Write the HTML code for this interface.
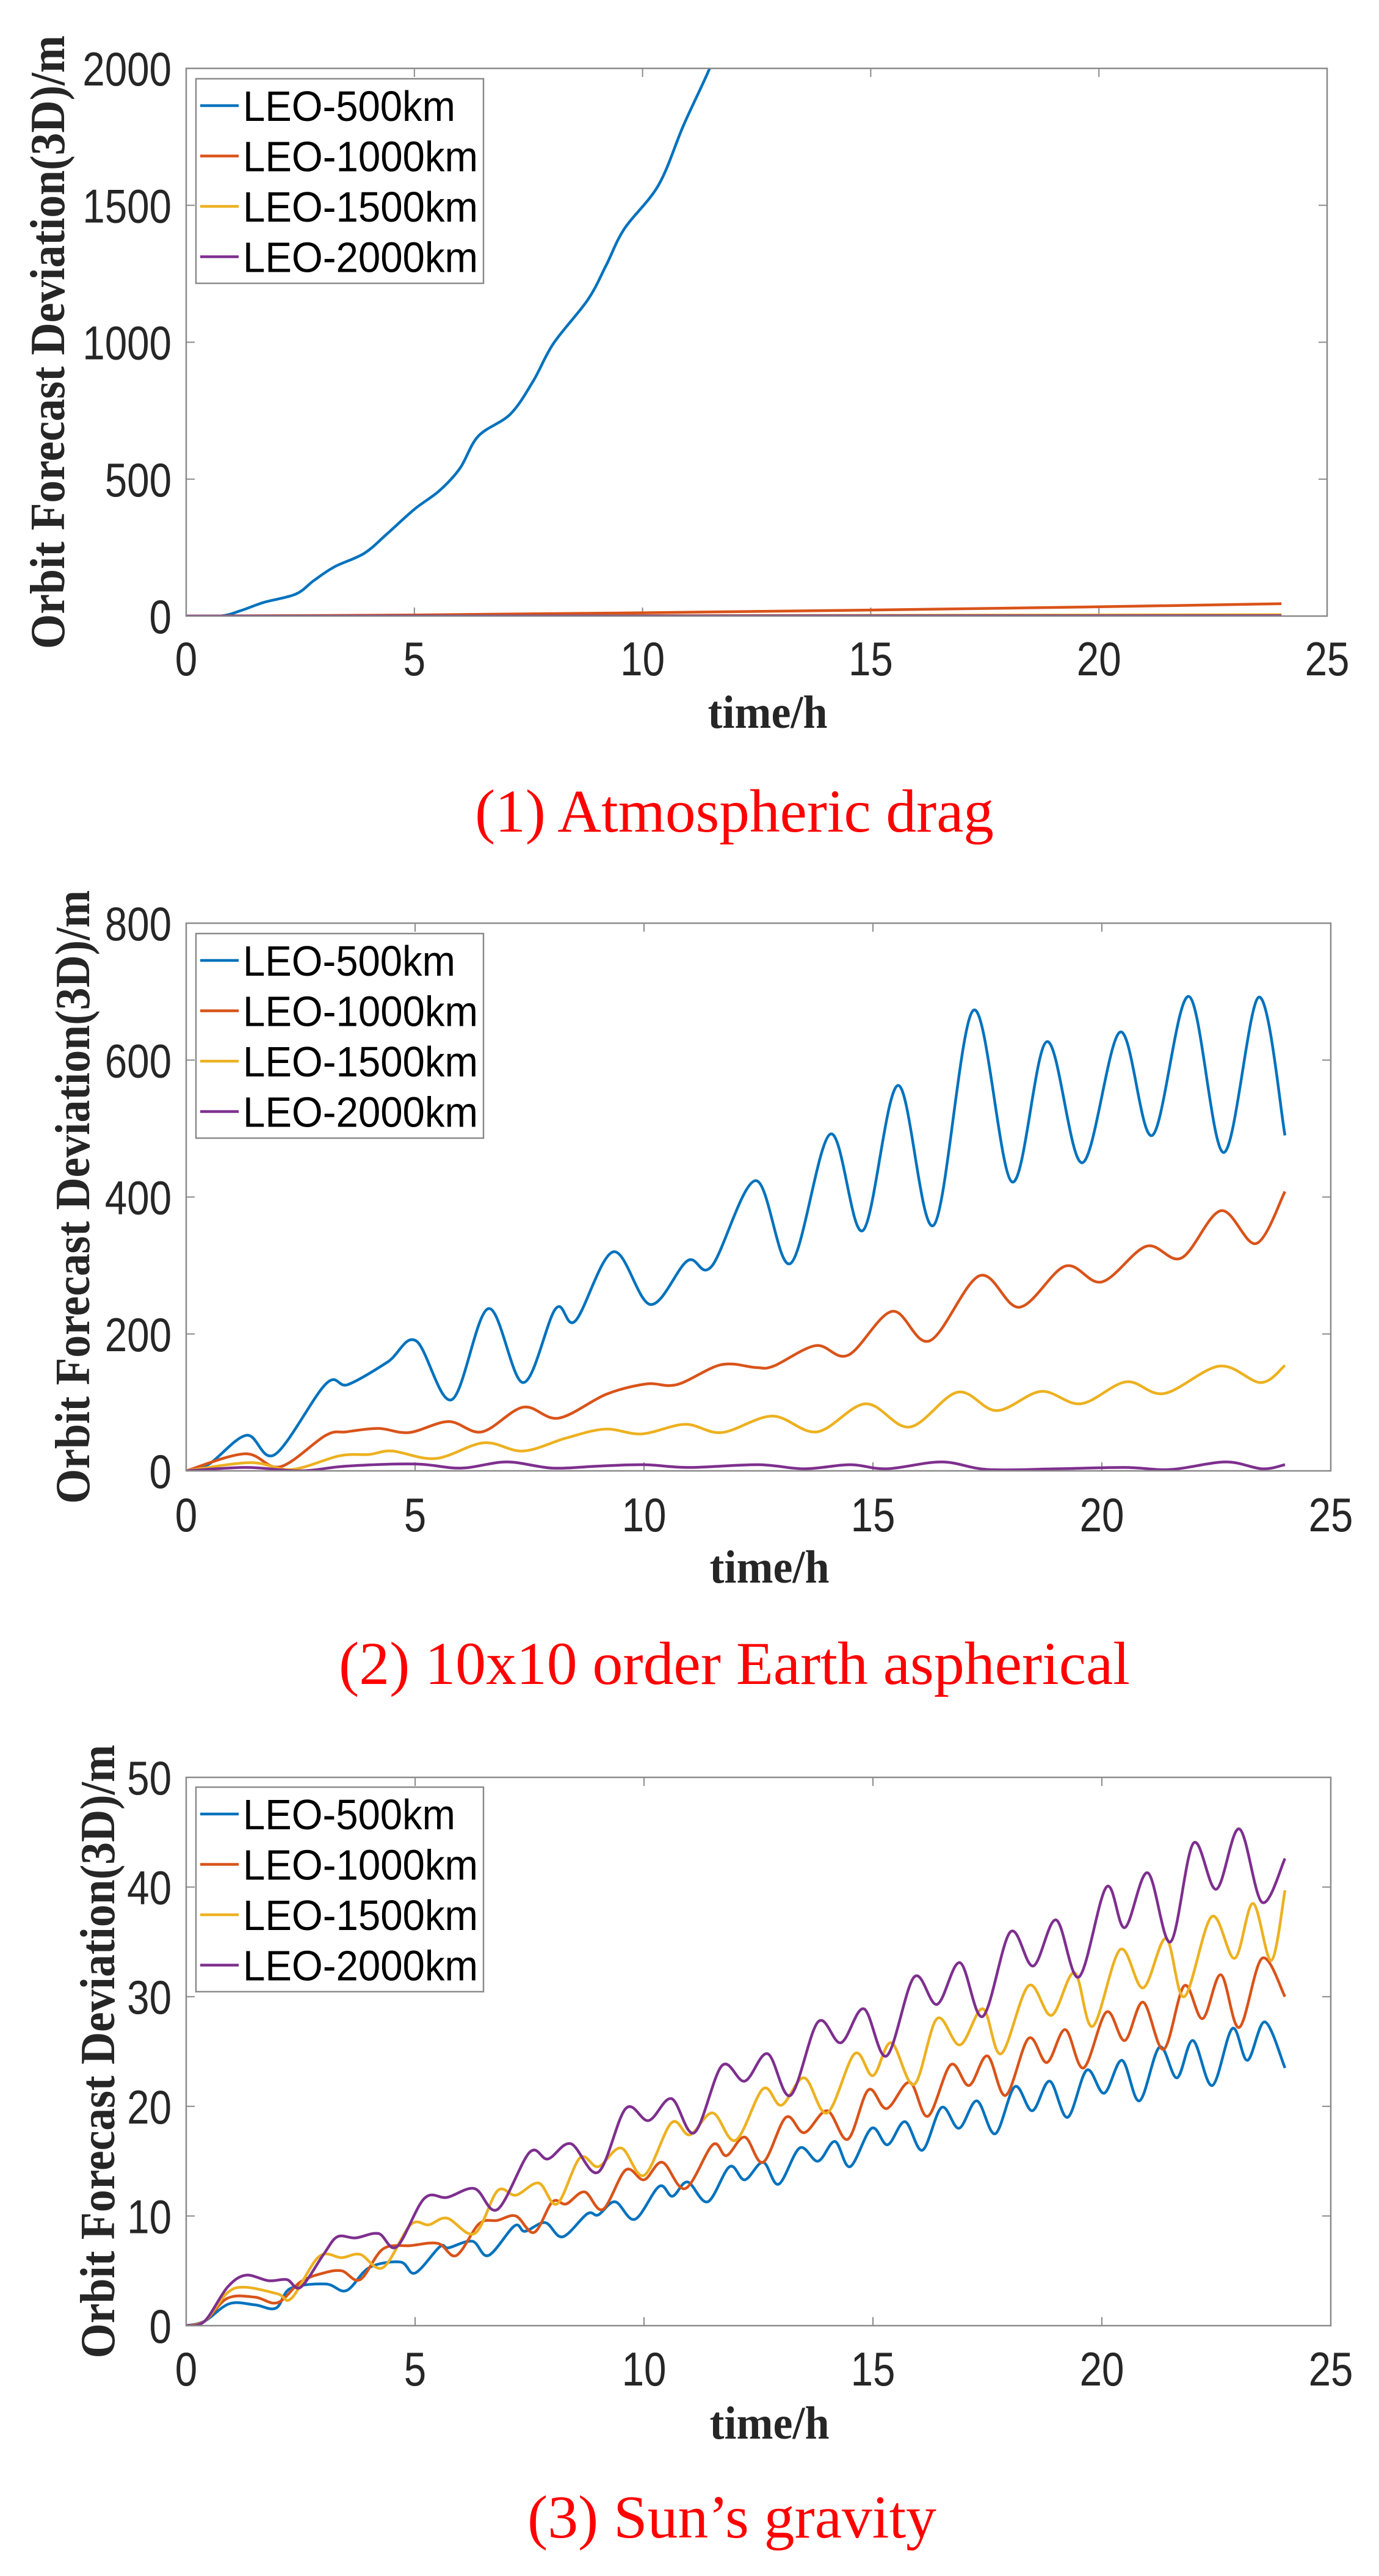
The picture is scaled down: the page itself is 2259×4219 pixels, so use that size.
<!DOCTYPE html>
<html><head><meta charset="utf-8"><style>
html,body{margin:0;padding:0;background:#fff;}
svg{display:block;}
</style></head><body>
<svg id="fig" width="2259" height="4219" viewBox="0 0 2259 4219" xmlns="http://www.w3.org/2000/svg"></svg>
<script>
// ---------- DATA ----------
const seriesNames = ["LEO-500km","LEO-1000km","LEO-1500km","LEO-2000km"];
const xTicks = [0,5,10,15,20,25];
const yTicks1 = [0,500,1000,1500,2000];
const yTicks2 = [0,200,400,600,800];
const yTicks3 = [0,10,20,30,40,50];
const captions = ["(1) Atmospheric drag","(2) 10x10 order Earth aspherical","(3) Sun’s gravity"];

// chart 1: atmospheric drag  [t, value]
const c1s500 = [[0,0],[0.75,0],[1.2,20],[1.7,50],[2.4,80],[2.8,130],[3.25,180],[3.9,229],[4.4,300],[5,390],[5.55,458],[6,540],[6.4,657],[7.1,737],[7.6,857],[8.05,996],[8.8,1155],[9.2,1280],[9.6,1414],[10.35,1574],[10.9,1793],[11.47,2000],[11.8,2150]];
const c1s1000 = [[0,0],[5,4],[10,12],[15,22],[20,34],[24,45]];
const c1s1500 = [[0,0],[6,1],[12,2],[18,3.5],[24,5]];
const c1s2000 = [[0,0],[8,0.4],[16,0.8],[24,1.2]];

// chart 2: 10x10 Earth aspherical
const c2s500 = [[0,0],[0.5,10],[1.32,52],[1.94,24],[3.05,127],[3.53,126],[4.4,159],[5.02,190],[5.8,104],[6.6,237],[7.36,129],[8.07,237],[8.5,219],[9.33,320],[10.14,243],[10.95,307],[11.48,299],[12.44,424],[13.2,303],[14.07,492],[14.78,351],[15.55,563],[16.33,359],[17.2,673],[18.04,422],[18.8,627],[19.57,450],[20.4,641],[21.1,490],[21.9,693],[22.66,465],[23.43,692],[24,490]];
const c2s1000 = [[0,0],[1.28,25],[2.05,6],[3.05,52],[3.5,57],[4.2,62],[4.87,56],[5.73,72],[6.46,57],[7.36,93],[8.13,77],[9.18,112],[10.05,127],[10.72,126],[11.68,155],[12.44,151],[12.83,153],[13.75,183],[14.46,169],[15.42,233],[16.24,190],[17.33,285],[18.2,239],[19.2,299],[20.0,276],[20.97,328],[21.74,311],[22.6,380],[23.37,332],[24,408]];
const c2s1500 = [[0,0],[1.4,12],[2.3,2],[3.35,22],[4,24],[4.5,29],[5.45,18],[6.5,41],[7.36,29],[8.3,48],[9.15,61],[9.95,54],[10.9,68],[11.7,56],[12.8,80],[13.78,57],[14.84,98],[15.8,64],[16.85,115],[17.7,88],[18.67,116],[19.54,98],[20.53,130],[21.36,113],[22.57,153],[23.47,129],[24,154]];
const c2s2000 = [[0,0],[1.3,5],[2.5,0],[3.5,7],[5,10],[6,4],[7,13],[8,4],[9,7],[10,9],[11,5],[12.5,9],[13.5,3],[14.5,9],[15.3,3],[16.5,13],[17.5,2],[19,3],[20.5,5],[21.5,2],[22.7,13],[23.5,3],[24,9]];

// chart 3: Sun's gravity
const c3s500 = [[0,0],[0.4,0.4],[0.94,2.0],[1.5,1.9],[1.96,1.6],[2.28,3.4],[3.05,3.8],[3.5,3.2],[4.0,5.3],[4.68,5.8],[5.0,4.8],[5.54,7.2],[5.73,7.1],[6.25,7.7],[6.6,6.4],[7.17,9.1],[7.4,8.6],[7.84,9.4],[8.22,8.1],[8.76,10.2],[9.0,10.1],[9.37,11.3],[9.8,9.7],[10.33,12.7],[10.62,11.8],[10.95,13.1],[11.39,11.3],[11.87,14.5],[12.2,13.3],[12.6,14.9],[12.94,12.9],[13.4,16.2],[13.8,15.0],[14.17,16.8],[14.5,14.5],[14.97,18.0],[15.32,16.5],[15.7,18.6],[16.08,16.0],[16.5,19.9],[16.88,18.0],[17.27,20.5],[17.67,17.5],[18.1,21.8],[18.48,19.6],[18.86,22.3],[19.25,19.0],[19.67,23.3],[20.05,21.2],[20.44,24.2],[20.82,20.5],[21.26,25.4],[21.64,22.6],[21.99,26.0],[22.41,21.9],[22.85,27.1],[23.18,24.2],[23.56,27.7],[24,23.5]];
const c3s1000 = [[0,0],[0.4,0.4],[0.9,2.5],[1.5,2.6],[2.0,2.1],[2.5,4.0],[3.0,4.8],[3.4,5.0],[3.8,4.2],[4.3,7.0],[4.9,7.3],[5.5,7.5],[5.9,6.4],[6.4,9.3],[6.8,9.6],[7.2,10.0],[7.6,8.5],[8.0,11.3],[8.3,11.1],[8.7,12.2],[9.1,10.6],[9.6,14.2],[10.0,13.3],[10.4,14.9],[10.9,12.5],[11.5,16.5],[11.8,15.5],[12.2,17.2],[12.6,14.9],[13.1,19.0],[13.5,17.6],[14.0,19.6],[14.45,17.0],[14.9,21.5],[15.3,19.8],[15.8,22.2],[16.2,19.1],[16.7,23.8],[17.1,21.9],[17.5,24.6],[17.9,21.0],[18.4,26.2],[18.8,24.0],[19.2,27.0],[19.6,23.5],[20.1,28.6],[20.5,26.0],[20.9,29.5],[21.35,25.2],[21.8,31.0],[22.2,28.0],[22.6,32.0],[23.0,27.2],[23.5,33.5],[24,30.0]];
const c3s1500 = [[0,0],[0.4,0.4],[0.9,3.0],[1.3,3.5],[2.0,2.9],[2.3,2.5],[2.9,6.3],[3.4,6.2],[3.8,6.5],[4.3,5.3],[4.9,9.2],[5.3,9.2],[5.7,9.8],[6.3,8.4],[6.8,12.3],[7.2,11.9],[7.7,13.0],[8.1,11.1],[8.6,15.3],[9.0,14.5],[9.5,16.2],[10.0,13.7],[10.6,18.5],[11.0,17.4],[11.5,19.4],[12.0,16.9],[12.6,21.6],[13.0,20.1],[13.5,22.6],[14.0,19.4],[14.6,24.8],[15.0,22.8],[15.4,25.8],[15.9,22.0],[16.4,28.0],[16.9,25.6],[17.4,28.9],[17.8,24.8],[18.4,31.0],[18.9,28.3],[19.4,32.2],[19.8,27.3],[20.4,34.3],[20.9,30.8],[21.4,35.3],[21.8,30.0],[22.4,37.3],[22.9,33.5],[23.3,38.5],[23.7,33.3],[24,39.7]];
const c3s2000 = [[0,0],[0.4,0.4],[0.9,3.5],[1.3,4.6],[1.8,4.1],[2.2,4.2],[2.5,3.5],[3.0,6.5],[3.3,8.1],[3.7,8.0],[4.2,8.4],[4.6,7.2],[5.2,11.6],[5.7,11.7],[6.3,12.5],[6.8,10.6],[7.5,15.8],[7.9,15.2],[8.4,16.6],[9.0,14.0],[9.6,19.8],[10.1,18.7],[10.6,20.7],[11.1,17.6],[11.7,23.7],[12.2,22.3],[12.7,24.8],[13.2,21.0],[13.8,27.7],[14.3,25.8],[14.8,28.9],[15.3,24.6],[15.9,31.8],[16.4,29.3],[16.9,33.1],[17.4,28.2],[18.0,35.9],[18.5,32.8],[19.0,37.0],[19.5,31.8],[20.1,40.0],[20.5,36.3],[21.0,41.3],[21.5,35.0],[22.0,44.0],[22.5,39.8],[23.0,45.3],[23.5,38.6],[24,42.6]];

// ---------- DRAW ----------
const NS = "http://www.w3.org/2000/svg";
const fig = document.getElementById("fig");
const colors = ["#0072BD","#D95319","#EDB120","#7E2F8E"];
function mk(tag, attrs, parent){
  const e = document.createElementNS(NS, tag);
  for (const k in attrs) e.setAttribute(k, attrs[k]);
  (parent||fig).appendChild(e);
  return e;
}
function smoothPath(pts){
  let d = "M"+pts[0][0].toFixed(1)+","+pts[0][1].toFixed(1);
  for (let i=0;i<pts.length-1;i++){
    const p0=pts[Math.max(0,i-1)], p1=pts[i], p2=pts[i+1], p3=pts[Math.min(pts.length-1,i+2)];
    const c1x=p1[0]+(p2[0]-p0[0])/6, c1y=p1[1]+(p2[1]-p0[1])/6;
    const c2x=p2[0]-(p3[0]-p1[0])/6, c2y=p2[1]-(p3[1]-p1[1])/6;
    d += " C"+c1x.toFixed(1)+","+c1y.toFixed(1)+" "+c2x.toFixed(1)+","+c2y.toFixed(1)+" "+p2[0].toFixed(1)+","+p2[1].toFixed(1);
  }
  return d;
}
const charts = [
  {L:305,R:2174,T:112,B:1009,ymax:2000,yTicks:yTicks1,series:[c1s500,c1s1000,c1s1500,c1s2000],ylx:79,tickY:1106,xlY:1192,capY:1362,capL:778,capW:850,legT:129},
  {L:305,R:2180,T:1512,B:2409,ymax:800,yTicks:yTicks2,series:[c2s500,c2s1000,c2s1500,c2s2000],ylx:120,tickY:2508,xlY:2592,capY:2758,capL:555,capW:1296,legT:1529},
  {L:305,R:2180,T:2911,B:3809,ymax:50,yTicks:yTicks3,series:[c3s500,c3s1000,c3s1500,c3s2000],ylx:161,tickY:3907,xlY:3994,capY:4156,capL:864,capW:670,legT:2927}
];
charts.forEach((c,ci)=>{
  const g = mk("g",{});
  
  
  const xs = t => c.L + (t/25)*(c.R-c.L);
  const ys = v => c.B - (v/c.ymax)*(c.B-c.T);
  const clip = mk("clipPath",{id:"clip"+ci},g);
  mk("rect",{x:c.L,y:c.T,width:c.R-c.L,height:c.B-c.T},clip);
  xTicks.forEach(t=>{
    const x=xs(t);
    const tk = mk("path",{d:`M${x},${c.B}v-14M${x},${c.T}v14`,stroke:"#8a8a8a","stroke-width":2,fill:"none"},g);
    
    
    const lb = mk("text",{x:0,y:0,"text-anchor":"middle","font-family":"Liberation Sans, sans-serif","font-size":78,fill:"#262626",transform:`translate(${x},${c.tickY}) scale(0.84,1)`},g);
    lb.textContent = t;
    
    
  });
  c.yTicks.forEach(v=>{
    const y=ys(v);
    const tk = mk("path",{d:`M${c.L},${y}h14M${c.R},${y}h-14`,stroke:"#8a8a8a","stroke-width":2,fill:"none"},g);
    
    
    const lb = mk("text",{x:0,y:0,"text-anchor":"end","font-family":"Liberation Sans, sans-serif","font-size":78,fill:"#262626",transform:`translate(${c.L-24},${y+28}) scale(0.84,1)`},g);
    lb.textContent = v;
    
    
  });
  c.series.forEach((s,si)=>{
    const pts = s.map(p=>[xs(p[0]),ys(p[1])]);
    const p = mk("path",{d:smoothPath(pts),stroke:colors[si],"stroke-width":4.5,fill:"none","clip-path":`url(#clip${ci})`,"stroke-linejoin":"round"},g);
    
    
  });
  const box = mk("rect",{x:c.L,y:c.T,width:c.R-c.L,height:c.B-c.T,fill:"none",stroke:"#8a8a8a","stroke-width":2.5},g);
  
  
  const lg = mk("g",{},g);
  
  
  mk("rect",{x:321,y:c.legT,width:471,height:335,fill:"#fff",stroke:"#8a8a8a","stroke-width":2.5},lg);
  seriesNames.forEach((n,si)=>{
    const cy = c.legT + 44 + si*82.5;
    const e = mk("g",{},lg);
    
    
    mk("line",{x1:328,x2:391,y1:cy,y2:cy,stroke:colors[si],"stroke-width":4.5},e);
    const t = mk("text",{x:398,y:cy+25,"font-family":"Liberation Sans, sans-serif","font-size":70,fill:"#000",textLength:(si===0?348:385),lengthAdjust:"spacingAndGlyphs"},e);
    t.textContent = n;
  });
  const xl = mk("text",{x:(c.L+c.R)/2+18,y:c.xlY,"text-anchor":"middle","font-family":"Liberation Serif, serif","font-weight":"bold","font-size":76,fill:"#262626",textLength:196,lengthAdjust:"spacingAndGlyphs"},g);
  xl.textContent = "time/h";
  
  
  const cy = (c.T+c.B)/2;
  const yl = mk("text",{x:0,y:0,"text-anchor":"middle","font-family":"Liberation Serif, serif","font-weight":"bold","font-size":80,fill:"#262626",textLength:1005,lengthAdjust:"spacingAndGlyphs",transform:`translate(${c.ylx+26},${cy}) rotate(-90)`},g);
  yl.textContent = "Orbit Forecast Deviation(3D)/m";
  
  
  const cap = mk("text",{x:c.capL,y:c.capY,"font-family":"Liberation Serif, serif","font-size":100,fill:"#ff0000",textLength:c.capW,lengthAdjust:"spacingAndGlyphs"},g);
  cap.textContent = captions[ci];
  
  
});
</script>
</body></html>
